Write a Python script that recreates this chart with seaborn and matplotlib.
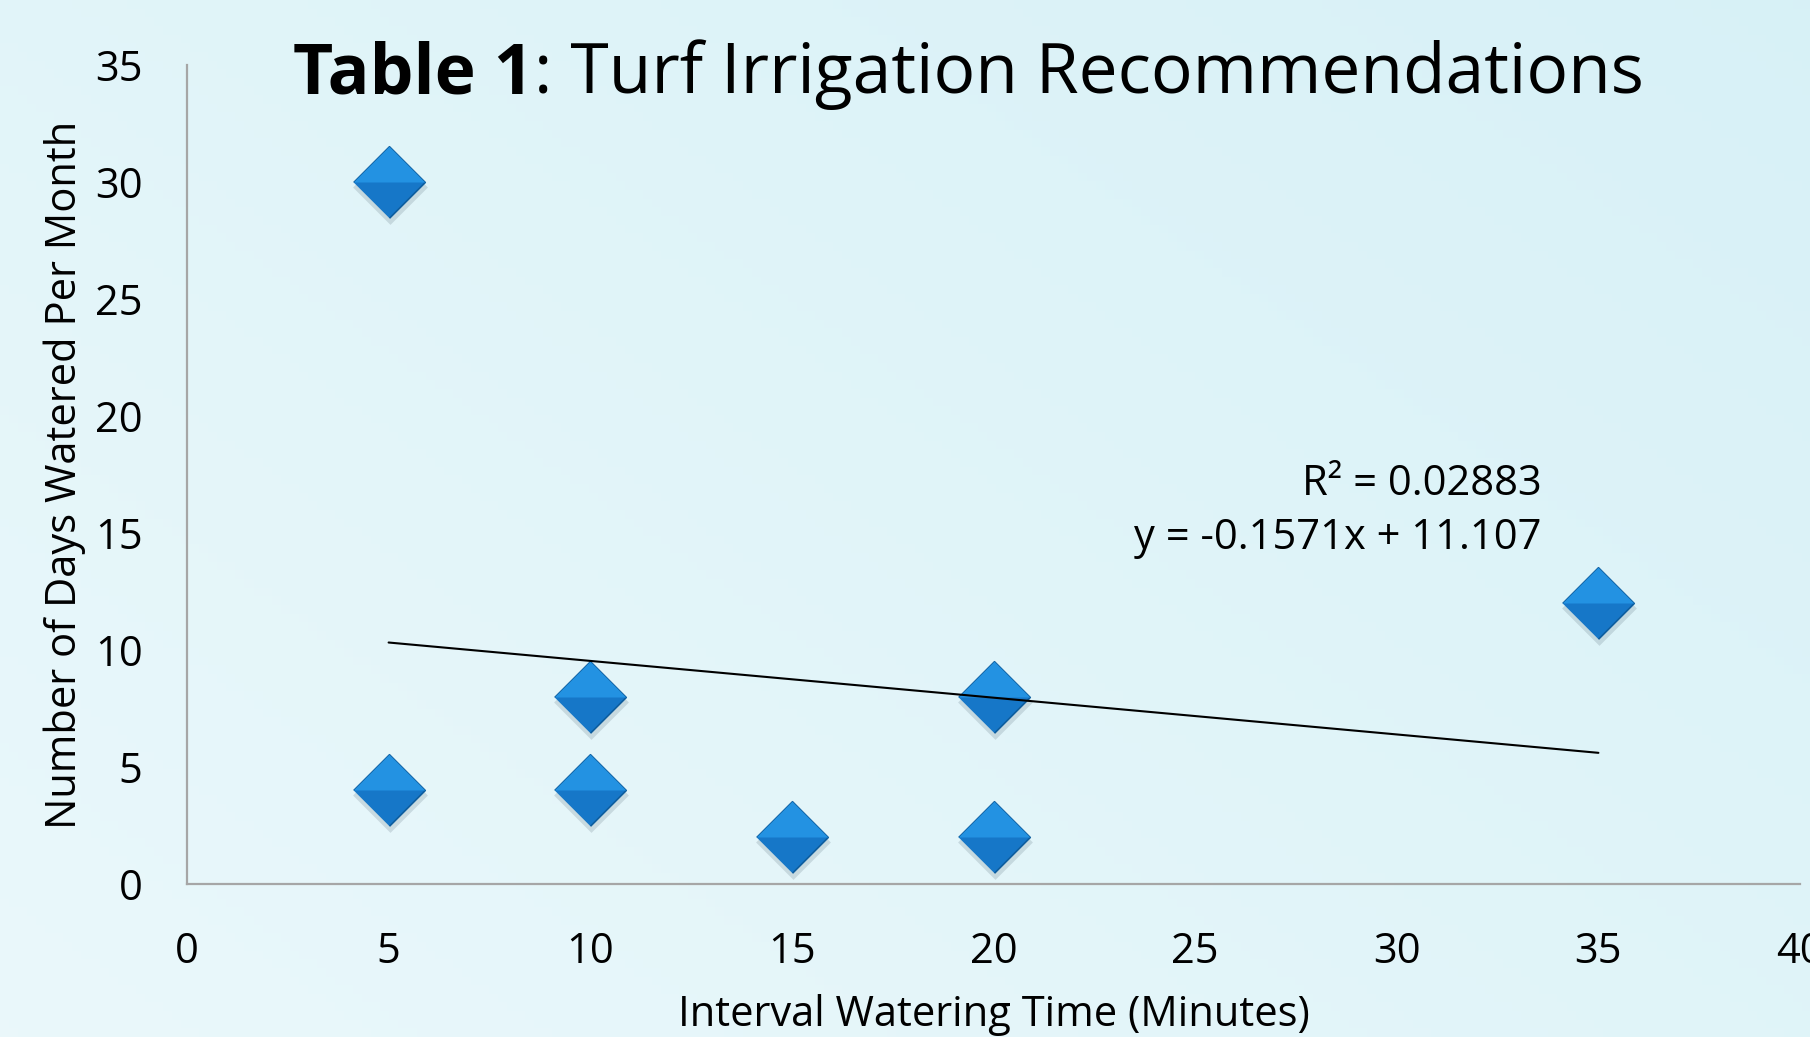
import numpy as np
import matplotlib
matplotlib.use("Agg")
import matplotlib.pyplot as plt
import matplotlib.transforms as mtransforms
import seaborn as sns
import pandas as pd

# data
interval_minutes = [5, 5, 10, 10, 15, 20, 20, 35]
days_per_month = [30, 4, 8, 4, 2, 8, 2, 12]
x_ticks = [0, 5, 10, 15, 20, 25, 30, 35, 40]
y_ticks = [0, 5, 10, 15, 20, 25, 30, 35]
r2_label = "R² = 0.02883"
eq_label = "y = -0.1571x + 11.107"

df = pd.DataFrame({"minutes": interval_minutes, "days": days_per_month})

sns.set_theme(style="white")
plt.rcParams["font.family"] = ["Open Sans", "DejaVu Sans"]
plt.rcParams["text.color"] = "black"
plt.rcParams["axes.labelcolor"] = "black"

fig = plt.figure(figsize=(18.1, 10.37), dpi=100)

# background gradient
bg = fig.add_axes([0, 0, 1, 1], zorder=-10)
gx, gy = np.meshgrid(np.linspace(0, 1, 200), np.linspace(0, 1, 120))
t = np.clip(0.55 * gx + 0.45 * gy, 0, 1)
c0 = np.array([0.918, 0.972, 0.984])   # bottom left, paler
c1 = np.array([0.845, 0.945, 0.968])   # top right, more cyan
img = c0[None, None, :] * (1 - t[..., None]) + c1[None, None, :] * t[..., None]
bg.imshow(img, aspect="auto", extent=[0, 1, 0, 1], origin="lower")
bg.axis("off")

ax = fig.add_axes([0.1033, 0.1475, 0.8912, 0.7898])
ax.patch.set_alpha(0)

# soft shadow under the diamonds
shadow_tr = mtransforms.offset_copy(ax.transData, fig=fig, x=1, y=-5, units="dots")
diamond = [(-1, 0), (0, 1), (1, 0), (0, -1)]
top_half = [(-1, 0), (0, 1), (1, 0)]
sns.scatterplot(data=df, x="minutes", y="days", marker=diamond, s=2900,
                color="#33495a", alpha=0.16, linewidth=0, ax=ax,
                transform=shadow_tr, zorder=2, legend=False)

sns.scatterplot(data=df, x="minutes", y="days", marker=diamond, s=2650,
                color="#1677c8", edgecolor="#0d5d9e", linewidth=1.2, ax=ax,
                zorder=3, legend=False)
sns.scatterplot(data=df, x="minutes", y="days", marker=top_half, s=2650,
                color="#2596e6", linewidth=0, alpha=0.9, ax=ax,
                zorder=4, legend=False)

# linear trendline across the data range
sns.regplot(data=df, x="minutes", y="days", scatter=False, ci=None, truncate=True,
            color="black", line_kws={"linewidth": 1.5, "zorder": 5}, ax=ax)

ax.text(33.6, 17.1, r2_label, ha="right", va="center", fontsize=30, color="black")
ax.text(33.6, 14.8, eq_label, ha="right", va="center", fontsize=30, color="black")

ax.set_xlim(0, 40)
ax.set_ylim(0, 35)
ax.set_xticks(x_ticks)
ax.set_yticks(y_ticks)
ax.tick_params(axis="both", length=0, labelsize=30, colors="black")
ax.tick_params(axis="x", pad=34)
ax.tick_params(axis="y", pad=32)
for side in ["top", "right"]:
    ax.spines[side].set_visible(False)
for side in ["left", "bottom"]:
    ax.spines[side].set_color("#a6a6a6")
    ax.spines[side].set_linewidth(1.6)

ax.set_xlabel("Interval Watering Time (Minutes)", fontsize=30, labelpad=15)
ax.set_ylabel("Number of Days Watered Per Month", fontsize=30, labelpad=6)

title_y = 1 - 75 / 1037
t1 = fig.text(0.162, title_y, "Table 1", fontsize=50, fontweight="bold", va="center", ha="left")
fig.canvas.draw()
bb = t1.get_window_extent()
fig.text(bb.x1 / fig.bbox.width, title_y, ": Turf Irrigation Recommendations",
         fontsize=50, va="center", ha="left")

fig.savefig("out.png", dpi=100)
